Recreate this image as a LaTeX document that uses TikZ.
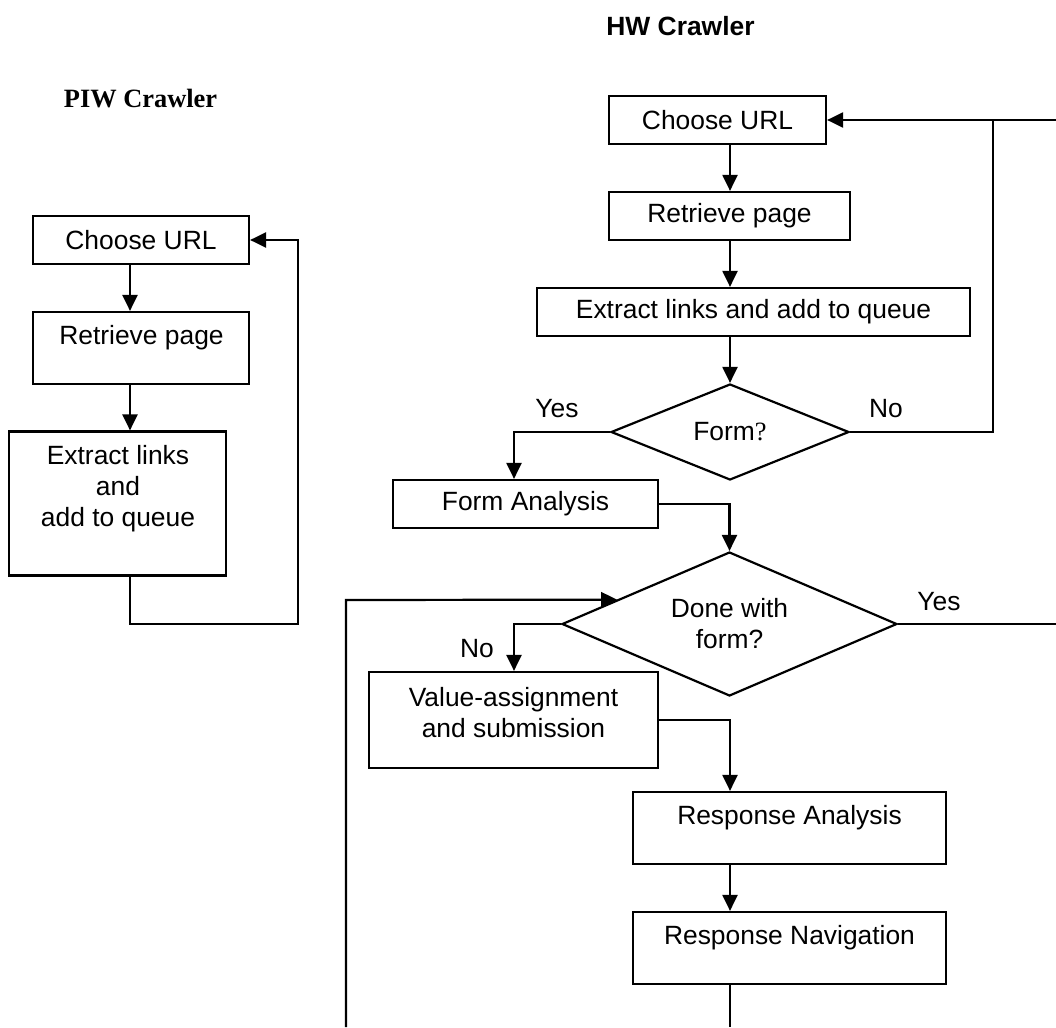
\documentclass[tikz,border=0pt]{standalone}
\usepackage{fontspec}
\setmainfont{Liberation Sans}
\newfontfamily\timesfont{Liberation Serif}
\usetikzlibrary{shapes.geometric,arrows.meta,calc}
\begin{document}
\begin{tikzpicture}[x=1pt,y=-1pt,
  every node/.style={font=\fontsize{26.4pt}{31pt}\selectfont, inner sep=0pt},
  box/.style={draw, line width=2.2pt, rectangle},
  dia/.style={draw, line width=2.2pt, diamond, aspect=2},
  arr/.style={line width=2.2pt, -{Triangle[length=16pt,width=15pt]}},
  ln/.style={line width=2.2pt}]
\useasboundingbox (0,0) rectangle (1056,1027);

% titles
\node[font=\bfseries\fontsize{26.4pt}{31pt}\selectfont] (hw) at (680.5,26) {HW Crawler};
\node[font=\timesfont\bfseries\fontsize{26.4pt}{31pt}\selectfont] (piw) at (140.5,99) {PIW Crawler};

% left chart
\node[box, minimum width=216pt, minimum height=48pt] (L1) at (141,240) {Choose URL};
\node[box, minimum width=216pt, minimum height=72pt] (L2) at (141,348) {};
\node (L2t) at (141.5,338) {Retrieve page};
\node[box, minimum width=217pt, minimum height=144pt] (L3) at (117.5,503.5) {};
\node[align=center] (L3t) at (118,489) {Extract links\\and\\add to queue};

% right chart
\node[box, minimum width=217pt, minimum height=48pt] (C2) at (717.5,120) {Choose URL};
\node[box, minimum width=241pt, minimum height=48pt] (R2) at (729.5,216) {Retrieve page};
\node[box, minimum width=433pt, minimum height=48pt] (E2) at (753.5,312) {Extract links and add to queue};
\node[dia, minimum width=238pt, minimum height=96pt] (F) at (730,432) {Form{\timesfont ?}};
\node[box, minimum width=265pt, minimum height=48pt] (FA) at (525.5,504) {Form Analysis};
\node[dia, minimum width=335pt, minimum height=144pt, align=center] (D) at (729.5,624) {Done with\\form?};
\node[box, minimum width=289pt, minimum height=96pt] (V) at (513.5,720) {};
\node[align=center] (Vt) at (513.5,713) {Value-assignment\\and submission};
\node[box, minimum width=313pt, minimum height=72pt] (RA) at (789.5,828) {};
\node (RAt) at (789.5,818) {Response Analysis};
\node[box, minimum width=313pt, minimum height=72pt] (RN) at (789.5,948) {};
\node (RNt) at (789.5,938) {Response Navigation};

% labels
\node (y1) at (557,409) {Yes};
\node (n1) at (886,409) {No};
\node (y2) at (939,602) {Yes};
\node (n2) at (477,649) {No};

% helper coordinates
\coordinate (ax) at (130,0);
\coordinate (rx) at (730,0);
\coordinate (yx) at (514,0);
\coordinate (lc) at (298,624);
\coordinate (nj) at (993,120);
\coordinate (edgeA) at (1056,120);
\coordinate (edgeB) at (1056,624);
\coordinate (bot1) at (730,1027);
\coordinate (bot2) at (346,1027);
\coordinate (lp) at (346,600);

% left connectors
\draw[arr] (L1.south -| ax) -- (L2.north -| ax);
\draw[arr] (L2.south -| ax) -- (L3.north -| ax);
\draw[arr] (L3.south -| ax) |- (lc) |- (L1.east);

% right connectors
\draw[arr] (C2.south -| rx) -- (R2.north -| rx);
\draw[arr] (R2.south -| rx) -- (E2.north -| rx);
\draw[arr] (E2.south -| rx) -- (F.north);
\draw[arr] (F.east) -| (nj) -- (C2.east);
\draw[ln] (nj) -- (edgeA);
\draw[arr] (F.west) -| (FA.north -| yx);
\draw[arr] (FA.east) -| (D.north);
\draw[ln] (D.east) -- (edgeB);
\draw[arr] (D.west) -| (V.north -| yx);
\draw[arr] (V.east) -| (RA.north -| rx);
\draw[arr] (RA.south -| rx) -- (RN.north -| rx);
\draw[ln] (RN.south -| rx) -- (bot1);
\draw[arr] (bot2) -- (lp) -- ($(D.west)!1/3!(D.north)$);
\end{tikzpicture}
\end{document}
